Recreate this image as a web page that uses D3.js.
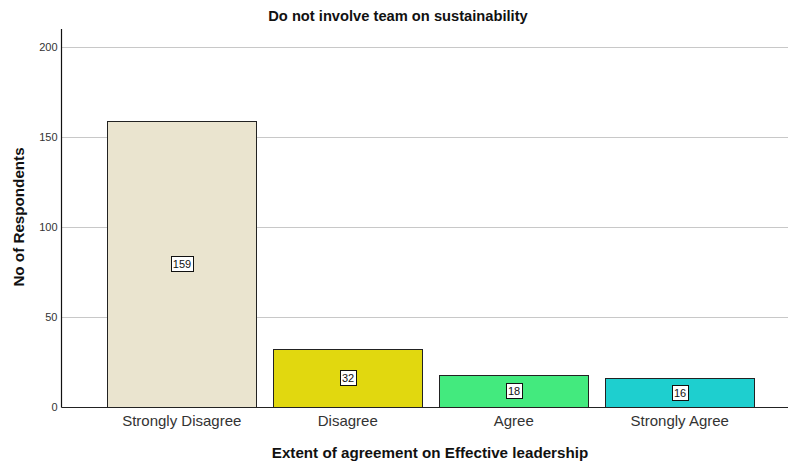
<!DOCTYPE html>
<html><head><meta charset="utf-8">
<script src="https://cdn.jsdelivr.net/npm/d3@7"></script>
<style>body{margin:0;background:#fff;} text{font-family:Arial,"Liberation Sans",sans-serif;}</style>
</head><body>
<svg id="c" width="789" height="463"></svg>
<script>
const categories = ["Strongly Disagree", "Disagree", "Agree", "Strongly Agree"];
const values = [159, 32, 18, 16];
const colors = ["#EAE4CF", "#E1D80F", "#43EA7E", "#1ECFCF"];
const yTicks = [0, 50, 100, 150, 200];
const title = "Do not involve team on sustainability";
const xTitle = "Extent of agreement on Effective leadership";
const yTitle = "No of Respondents";

(function() {
const svg = d3.select("#c");
const pLeft = 61.5, pRight = 788, pTop = 29, pBottom = 407;

const y = d3.scaleLinear().domain([0, 210]).range([pBottom, pTop]);
const x = d3.scaleBand().domain(categories).range([pLeft, 800]).paddingInner(0.1).paddingOuter(0.2745).align(0.5);

// gridlines
svg.append("g").selectAll("line").data(yTicks.filter(d => d > 0)).join("line")
  .attr("x1", pLeft).attr("x2", pRight)
  .attr("y1", d => Math.round(y(d)) + 0.5).attr("y2", d => Math.round(y(d)) + 0.5)
  .attr("stroke", "#c8c8c8").attr("stroke-width", 1);

// y axis
const yAxis = svg.append("g").attr("transform", `translate(${pLeft},0)`)
  .call(d3.axisLeft(y).tickValues(yTicks).tickSize(0).tickPadding(4));
yAxis.select(".domain").remove();
yAxis.selectAll("text").attr("font-size", 11).attr("fill", "#333").attr("font-family", "Arial, 'Liberation Sans', sans-serif");
svg.append("line").attr("x1", pLeft).attr("x2", pLeft).attr("y1", pTop).attr("y2", pBottom + 0.5)
  .attr("stroke", "#111").attr("stroke-width", 1.2);

// bars
svg.append("g").selectAll("rect").data(values).join("rect")
  .attr("x", (d, i) => Math.round(x(categories[i])) + 0.5)
  .attr("y", d => Math.round(y(d)) + 0.5)
  .attr("width", Math.round(x.bandwidth()))
  .attr("height", d => pBottom - Math.round(y(d)))
  .attr("fill", (d, i) => colors[i])
  .attr("stroke", "#222").attr("stroke-width", 1);

// x axis
svg.append("line").attr("x1", pLeft).attr("x2", pRight).attr("y1", pBottom + 0.5).attr("y2", pBottom + 0.5)
  .attr("stroke", "#222").attr("stroke-width", 1.2);
const xAxis = svg.append("g").attr("transform", `translate(0,${pBottom})`)
  .call(d3.axisBottom(x).tickSize(0).tickPadding(8));
xAxis.select(".domain").remove();
xAxis.selectAll("text").attr("font-size", 15).attr("fill", "#333").attr("font-family", "Arial, 'Liberation Sans', sans-serif");

// value labels
const lab = svg.append("g").selectAll("g").data(values).join("g")
  .attr("transform", (d, i) => `translate(${Math.round(x(categories[i]) + x.bandwidth() / 2)},${Math.round((y(d) + pBottom) / 2)})`);
lab.append("text").text(d => d).attr("font-size", 11).attr("text-anchor", "middle")
  .attr("dy", "0.36em").attr("fill", "#111").each(function() {
    const b = this.getBBox();
    d3.select(this.parentNode).insert("rect", "text")
      .attr("x", Math.round(b.x - 2) + 0.5).attr("y", -7.5)
      .attr("width", Math.round(b.width + 4)).attr("height", 15)
      .attr("fill", "#fff").attr("stroke", "#111").attr("stroke-width", 1);
  });

// titles
svg.append("text").attr("x", 398).attr("y", 21).attr("text-anchor", "middle")
  .attr("font-size", 14.7).attr("font-weight", "bold").attr("fill", "#111").text(title);
svg.append("text").attr("x", 430).attr("y", 458).attr("text-anchor", "middle")
  .attr("font-size", 15.2).attr("font-weight", "bold").attr("fill", "#111").text(xTitle);
svg.append("text").attr("transform", "translate(24,217) rotate(-90)").attr("text-anchor", "middle")
  .attr("font-size", 15.2).attr("font-weight", "bold").attr("fill", "#111").text(yTitle);
})();
</script>
</body></html>
